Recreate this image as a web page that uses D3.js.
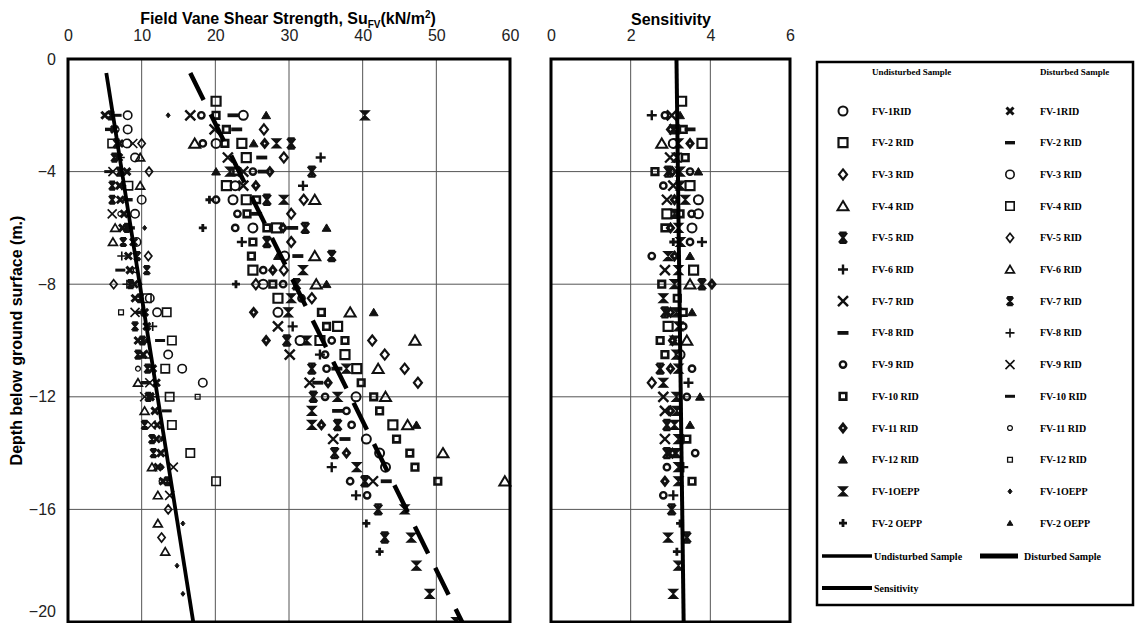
<!DOCTYPE html>
<html>
<head>
<meta charset="utf-8">
<script src="https://cdn.jsdelivr.net/npm/d3@7"></script>
<style>
  body { margin: 0; background: #fff; }
  svg { display: block; }
</style>
</head>
<body>
<svg id="chart" width="1139" height="623"></svg>
<script>
// ---- axis ticks and legend labels ----
const suTicks = [0, 10, 20, 30, 40, 50, 60];
const sensTicks = [0, 2, 4, 6];
const depthTicks = [0, -4, -8, -12, -16, -20];
const gridSu = [10, 20, 30, 40, 50];
const gridSens = [2, 4];
const gridDepth = [-4, -8, -12, -16];

const testLabels = ["FV-1RID", "FV-2 RID", "FV-3 RID", "FV-4 RID", "FV-5 RID", "FV-6 RID", "FV-7 RID",
  "FV-8 RID", "FV-9 RID", "FV-10 RID", "FV-11 RID", "FV-12 RID", "FV-1OEPP", "FV-2 OEPP"];

// ---- undisturbed field vane strength: [depth (m), Su (kN/m²)] ----
const und1 = [[-2,23.8],[-3,20.1],[-4.5,22.7],[-5,22.4],[-6,25.1],[-7,29.4],[-8,26.5],[-9,28.5],[-10,31.5],[-12,39.1],[-13.5,40.5],[-14,42.3],[-14.5,43.1]];
const und2 = [[-1.5,20.1],[-3,23.6],[-3.5,24.2],[-4.5,21.5],[-5,24.2],[-6,28.3],[-7.5,25.1],[-8.5,28.5],[-9.5,36.6],[-10,34.2],[-10.5,37.6],[-11,39.2],[-13,44.1]];
const und3 = [[-2.5,26.6],[-3.5,29.3],[-5,32.0],[-5.5,30.3],[-6.5,30.3],[-7.5,29.3],[-8,25.5],[-8.5,33.1],[-10,41.3],[-10.5,43.0],[-11,45.7],[-11.5,47.5]];
const und4 = [[-3,17.2],[-5,33.5],[-7,33.5],[-8,33.7],[-9,38.3],[-10,47.1],[-11,42.1],[-12,43.1],[-13,46.1],[-14,50.9],[-15,59.3]];
const und5 = [[-3,30.3],[-4,33.1],[-5,27.0],[-6,32.2],[-6.5,27.0],[-7,35.8],[-8,31.0],[-10,29.7],[-11,33.1],[-12,33.3],[-13,36.6],[-14,36.2],[-15,40.3],[-16,42.1],[-17,43.0]];
const und6 = [[-3.5,34.3],[-4.5,31.9],[-6.5,23.6],[-9.5,30.5],[-10.5,34.2],[-14.5,35.8],[-15.5,39.1]];
const und7 = [[-2,16.6],[-2.5,19.9],[-3.5,21.7],[-4,23.8],[-4.5,23.8],[-9.5,28.5],[-10.5,30.1],[-11.5,32.8],[-13.5,36.0],[-15,41.4]];
const und8 = [[-2,22.4],[-2.5,22.9],[-3.5,26.3],[-4,26.5],[-5.5,25.6],[-6,30.5],[-7,31.2],[-11,36.5],[-11.5,33.9],[-12.5,36.6],[-13.5,37.6],[-15,43.2]];
const und9 = [[-2,18.1],[-3,18.3],[-4,25.1],[-5,20.1],[-5.5,23.0],[-6,22.7],[-7.5,26.5],[-8,29.2],[-8.5,31.7],[-10,35.8],[-10.5,34.9],[-11,35.1],[-12,34.9],[-12.5,37.8],[-13,38.5],[-15,38.3],[-15.5,40.6]];
const und10 = [[-2,20.1],[-2.5,21.5],[-3,21.3],[-4,22.9],[-5,25.6],[-5.5,24.3],[-6,27.0],[-6.5,25.1],[-7,24.9],[-8,27.8],[-9,34.4],[-9.5,35.1],[-10,37.6],[-11.5,39.8],[-12,41.5],[-12.5,42.3],[-13.5,44.6],[-14,46.4],[-14.5,47.1],[-15,50.2]];
const und11 = [[-3,26.7],[-4,27.4],[-4.5,25.5],[-6,29.2],[-7.5,27.8],[-9,25.2],[-10,26.9],[-11.5,35.3],[-13,34.4],[-14,37.8]];
const und12 = [[-2,26.9],[-3,25.2],[-4,20.1],[-6,35.1],[-7,28.5],[-8,35.1],[-9,41.5],[-13,47.3]];
const und13 = [[-2,40.3],[-3,28.3],[-4,22.0],[-5,29.3],[-7.5,31.9],[-8.5,30.3],[-9,29.9],[-10,32.4],[-11,37.8],[-12,36.6],[-12.5,33.1],[-13,33.1],[-14.5,39.2],[-16,45.7],[-17,46.6],[-18,47.3],[-19,49.1],[-20,52.7]];
const und14 = [[-5,19.2],[-6,18.3],[-8,22.8],[-16.5,40.5],[-17.5,42.3]];

// ---- disturbed (remoulded) strength: [depth (m), Su (kN/m²)] ----
const dis1 = [[-2,5.0],[-2.5,6.3],[-3,7.0],[-3.5,6.9],[-4,8.0],[-4.5,7.0],[-5,7.1],[-5.5,7.6],[-6,7.4],[-6.5,8.9],[-7,8.2],[-7.5,8.4],[-8,9.0],[-8.5,9.1],[-9,10.4],[-9.5,10.7],[-10,9.5],[-10.5,10.2],[-11,11.5],[-11.5,12.0],[-12,11.2],[-12.5,11.8],[-13,12.1],[-13.5,12.0],[-14,12.6],[-14.5,12.2],[-15,12.9]];
const dis2 = [[-2.5,5.7],[-5,8.1],[-6,8.4],[-9,9.9],[-11.5,10.6]];
const dis3 = [[-2,8.1],[-2.5,8.1],[-3,8.0],[-3.5,9.1],[-5,10.0],[-5.5,9.1],[-6.5,9.3],[-8.5,11.1],[-9,12.1],[-10.5,13.6],[-11,15.5],[-11.5,18.3]];
const dis4 = [[-3,6.0],[-4.5,8.2],[-8.5,10.7],[-9,13.4],[-10,14.1],[-11,13.2],[-12,13.8],[-13,14.1],[-14,16.6],[-15,20.1]];
const dis5 = [[-3,10.0],[-4,11.0],[-7,10.9],[-8,6.2],[-16,13.6],[-17,12.7]];
const dis6 = [[-3.5,9.8],[-4.5,9.8],[-6,6.4],[-6.5,6.1],[-10.5,10.7],[-11.5,9.5],[-12.5,10.4],[-14.5,11.4],[-15.5,12.2],[-16.5,12.2],[-17.5,13.2]];
const dis7 = [[-2,5.8],[-3,6.6],[-3.5,6.3],[-4,7.0],[-4.5,6.0],[-5,6.0],[-6,8.0],[-6.5,7.5],[-7,9.4],[-7.5,10.7],[-8,8.5],[-8.5,9.8],[-9.5,9.1],[-10,10.1],[-10.5,9.5],[-11,10.8],[-12,10.9],[-13,10.4],[-13.5,11.4],[-14,11.6],[-15,13.5]];
const dis8 = [[-3.5,7.1],[-4.5,7.3],[-7,7.3],[-8,8.0],[-9.5,11.5],[-12,11.5]];
const dis9 = [[-3,8.8],[-4,6.1],[-5.5,6.0],[-9,9.1],[-11.5,11.1],[-12,10.4],[-13,11.3],[-14.5,14.3],[-15.5,13.8]];
const dis10 = [[-2,6.6],[-4,5.6],[-7.5,7.1],[-10,12.5],[-12.5,13.4]];
const dis11 = [[-2.5,6.6],[-5.5,7.1],[-7.5,9.2],[-11,9.5],[-15,12.7]];
const dis12 = [[-9,7.2],[-12,17.6]];
const dis13 = [[-2,13.6],[-6,10.4],[-8,9.8],[-10,10.7],[-13.5,12.7],[-14.5,12.8],[-16.5,15.6],[-18,14.8],[-19,15.6]];
const dis14 = [[-4,7.2],[-10,10.2]];

// ---- sensitivity: [depth (m), St] ----
const sens1 = [[-3,3.07],[-5,3.70],[-5.5,3.70],[-6,3.54],[-10.5,3.24]];
const sens2 = [[-1.5,3.28],[-3,3.79],[-4.5,3.49],[-5.5,2.91],[-7.5,3.58],[-9.5,2.94]];
const sens3 = [[-11.5,2.53]];
const sens4 = [[-3,2.78],[-8,3.49],[-10,3.41]];
const sens5 = [[-4,2.94],[-8,3.79],[-9,2.86],[-11,2.74],[-13,2.91],[-14,2.91],[-16,3.03],[-17,3.41]];
const sens6 = [[-2,2.53],[-6.5,3.79],[-11.5,3.45],[-14.5,3.32],[-15.5,3.07]];
const sens7 = [[-2,3.03],[-3.5,2.99],[-4.5,3.07],[-5,2.91],[-7.5,2.86],[-12,2.82],[-12.5,2.86],[-13.5,2.86]];
const sens8 = [[-2.5,3.49]];
const sens9 = [[-2,2.86],[-4,3.49],[-4.5,2.82],[-5.5,3.53],[-6.5,3.49],[-7,2.53],[-9.5,3.32],[-11,3.54],[-12,3.41],[-14,3.62],[-14.5,2.91],[-15.5,2.82]];
const sens10 = [[-2.5,3.32],[-3.5,3.37],[-4,2.61],[-5.5,3.24],[-6,2.86],[-8,2.78],[-8.5,3.17],[-9,3.32],[-10,2.74],[-10.5,2.86],[-13.5,3.41],[-15,3.54]];
const sens11 = [[-2.5,3.0],[-3,3.49],[-4,3.05],[-5,3.1],[-6,3.0],[-7,3.1],[-8,4.04],[-9,3.0],[-10,3.05],[-11,3.0],[-12.5,3.0],[-14,3.05],[-15,2.86]];
const sens12 = [[-2,3.24],[-4,3.70],[-7,3.49],[-9,3.54],[-12,3.74],[-13,3.49]];
const sens13 = [[-2.5,3.1],[-3,3.2],[-3.5,3.15],[-4,3.24],[-4.5,3.25],[-5,3.37],[-5.5,3.1],[-6,3.2],[-6.5,3.25],[-7,2.94],[-7.5,3.2],[-8,3.1],[-8.5,2.82],[-9,3.15],[-9.5,3.2],[-10,3.1],[-10.5,3.15],[-11,3.2],[-11.5,2.82],[-12,3.15],[-12.5,3.16],[-13,3.1],[-13.5,3.2],[-14,3.15],[-14.5,3.2],[-15,3.2],[-17,2.94],[-18,3.2],[-19,3.07]];
const sens14 = [[-6.5,3.07],[-16.5,3.24],[-17.5,3.16]];

// ---- fitted trend lines ----
const disturbedTrend = [[-0.5, 5.2], [-20, 17.0]];
const undisturbedTrend = [[-0.5, 16.6], [-20, 53.5]];
const sensitivityTrend = [[0, 3.15], [-20, 3.33]];

const undSeries = [und1, und2, und3, und4, und5, und6, und7, und8, und9, und10, und11, und12, und13, und14];
const disSeries = [dis1, dis2, dis3, dis4, dis5, dis6, dis7, dis8, dis9, dis10, dis11, dis12, dis13, dis14];
const sensSeries = [sens1, sens2, sens3, sens4, sens5, sens6, sens7, sens8, sens9, sens10, sens11, sens12, sens13, sens14];

// ---- marker shapes ----
const shapes = {
  circle: (c, r) => { c.moveTo(r, 0); c.arc(0, 0, r, 0, 2 * Math.PI); },
  square: (c, r) => { c.rect(-r, -r, 2 * r, 2 * r); },
  diamond: (c, r) => { c.moveTo(0, -r * 1.25); c.lineTo(r, 0); c.lineTo(0, r * 1.25); c.lineTo(-r, 0); c.closePath(); },
  triangle: (c, r) => { c.moveTo(0, -r); c.lineTo(r * 1.1, r * 0.85); c.lineTo(-r * 1.1, r * 0.85); c.closePath(); },
  plus: (c, r) => { c.moveTo(-r, 0); c.lineTo(r, 0); c.moveTo(0, -r); c.lineTo(0, r); },
  times: (c, r) => { c.moveTo(-r, -r); c.lineTo(r, r); c.moveTo(r, -r); c.lineTo(-r, r); },
  dash: (c, r) => { c.moveTo(-r, 0); c.lineTo(r, 0); },
  zhe: (c, r) => {
    c.moveTo(-r * 0.8, -r); c.lineTo(r * 0.8, r); c.moveTo(r * 0.8, -r); c.lineTo(-r * 0.8, r);
    c.moveTo(0, -r); c.lineTo(0, r);
    c.moveTo(-r * 0.7, -r); c.lineTo(r * 0.7, -r); c.moveTo(-r * 0.7, r); c.lineTo(r * 0.7, r);
  },
  hourglass: (c, r) => { c.moveTo(-r, -r); c.lineTo(r, -r); c.lineTo(-r, r); c.lineTo(r, r); c.closePath(); }
};

const undStyles = [
  { shape: "circle", r: 4.5, sw: 2 },
  { shape: "square", r: 4.5, sw: 2.2 },
  { shape: "diamond", r: 4, sw: 2.2 },
  { shape: "triangle", r: 5, sw: 2 },
  { shape: "zhe", r: 5, sw: 2.4 },
  { shape: "plus", r: 5, sw: 2.4 },
  { shape: "times", r: 5, sw: 2.4 },
  { shape: "dash", r: 5.5, sw: 3.8 },
  { shape: "circle", r: 3.2, sw: 2.4 },
  { shape: "square", r: 3.3, sw: 2.6 },
  { shape: "diamond", r: 3, sw: 3 },
  { shape: "triangle", r: 4, sw: 1, fill: true },
  { shape: "hourglass", r: 4.5, sw: 1.2, fill: true },
  { shape: "plus", r: 4, sw: 2.8 }
];
const disStyles = [
  { shape: "times", r: 3.5, sw: 3 },
  { shape: "dash", r: 5, sw: 3.4 },
  { shape: "circle", r: 4.2, sw: 1.6 },
  { shape: "square", r: 4.2, sw: 1.6 },
  { shape: "diamond", r: 3.6, sw: 1.7 },
  { shape: "triangle", r: 4, sw: 1.7 },
  { shape: "zhe", r: 4, sw: 2.2 },
  { shape: "plus", r: 4.5, sw: 1.6 },
  { shape: "times", r: 4.5, sw: 1.6 },
  { shape: "dash", r: 5, sw: 3 },
  { shape: "circle", r: 2.4, sw: 1.3 },
  { shape: "square", r: 2.4, sw: 1.3 },
  { shape: "diamond", r: 2, sw: 1, fill: true },
  { shape: "triangle", r: 2.6, sw: 1, fill: true }
];

function markerPath(style) {
  return d3.symbol()
    .type({ draw: (ctx, size) => shapes[style.shape](ctx, Math.sqrt(size)) })
    .size(style.r * style.r)();
}
function styleMarker(sel, style) {
  sel.attr("d", markerPath(style))
    .attr("fill", style.fill ? "#111" : "none")
    .attr("stroke", "#111")
    .attr("stroke-width", style.sw)
    .attr("stroke-linejoin", "miter");
}

// ---- layout ----
const svg = d3.select("#chart");
const plotTop = 59, plotBottom = 622;
const xSu = d3.scaleLinear().domain([0, 60]).range([68, 510]);
const xSens = d3.scaleLinear().domain([0, 6]).range([551, 790]);
const yDepth = d3.scaleLinear().domain([0, -20]).range([plotTop, plotBottom]);

const sans = "'Liberation Sans', Arial, sans-serif";
const serif = "'Liberation Serif', 'Times New Roman', serif";

function panel(x, gridX, ticks, series, styles, lines) {
  const g = svg.append("g");
  // grid
  g.append("g").selectAll("line").data(gridX).join("line")
    .attr("x1", d => x(d)).attr("x2", d => x(d))
    .attr("y1", plotTop).attr("y2", plotBottom)
    .attr("stroke", "#555").attr("stroke-width", 1);
  g.append("g").selectAll("line").data(gridDepth).join("line")
    .attr("x1", x.range()[0]).attr("x2", x.range()[1])
    .attr("y1", d => yDepth(d)).attr("y2", d => yDepth(d))
    .attr("stroke", "#555").attr("stroke-width", 1);
  // markers
  series.forEach((pts, i) => {
    g.append("g").selectAll("path").data(pts).join("path")
      .attr("transform", d => `translate(${x(d[1])},${yDepth(d[0])})`)
      .call(styleMarker, styles[i]);
  });
  // trend lines
  const line = d3.line().x(d => x(d[1])).y(d => yDepth(d[0]));
  lines.forEach(l => {
    g.append("path").datum(l.data).attr("d", line)
      .attr("fill", "none").attr("stroke", "#000")
      .attr("stroke-width", l.width).attr("stroke-dasharray", l.dash || null);
  });
  // frame
  g.append("rect")
    .attr("x", x.range()[0]).attr("y", plotTop)
    .attr("width", x.range()[1] - x.range()[0]).attr("height", plotBottom - plotTop)
    .attr("fill", "none").attr("stroke", "#000").attr("stroke-width", 3);
  // top axis labels
  const ax = g.append("g").attr("transform", `translate(0,${plotTop})`)
    .call(d3.axisTop(x).tickValues(ticks).tickSize(0).tickPadding(18).tickFormat(d3.format("d")));
  ax.select(".domain").remove();
  ax.selectAll("text").attr("font-family", sans).attr("font-size", 16).attr("fill", "#222");
  return g;
}

panel(xSu, gridSu, suTicks, [...undSeries, ...disSeries], [...undStyles, ...disStyles], [
  { data: disturbedTrend, width: 3.8 },
  { data: undisturbedTrend, width: 4.5, dash: "30,16" }
]);
panel(xSens, gridSens, sensTicks, sensSeries, undStyles, [
  { data: sensitivityTrend, width: 4 }
]);

// depth axis (the lowest label sits at the bottom edge, nudged up to stay legible)
const ay = svg.append("g").attr("transform", `translate(${xSu.range()[0]},0)`)
  .call(d3.axisLeft(yDepth).tickValues(depthTicks).tickSize(0).tickPadding(12).tickFormat(d3.format("d")));
ay.select(".domain").remove();
ay.selectAll("text").attr("font-family", sans).attr("font-size", 16).attr("fill", "#222");
ay.selectAll(".tick").filter(d => d === -20).select("text").attr("dy", "-0.32em");

// titles
const t1 = svg.append("text").attr("x", 288).attr("y", 24).attr("text-anchor", "middle")
  .attr("font-family", sans).attr("font-size", 16).attr("font-weight", "bold");
t1.append("tspan").text("Field Vane Shear Strength, Su");
t1.append("tspan").attr("font-size", 10).attr("dy", 4).text("FV");
t1.append("tspan").attr("dy", -4).text("(kN/m");
t1.append("tspan").attr("font-size", 10).attr("dy", -6).text("2");
t1.append("tspan").attr("dy", 6).text(")");

svg.append("text").attr("x", 671).attr("y", 25).attr("text-anchor", "middle")
  .attr("font-family", sans).attr("font-size", 16).attr("font-weight", "bold").text("Sensitivity");

svg.append("text").attr("transform", `translate(22,${(plotTop + plotBottom) / 2}) rotate(-90)`)
  .attr("text-anchor", "middle").attr("font-family", sans).attr("font-size", 16)
  .attr("font-weight", "bold").text("Depth below ground surface (m.)");

// ---- legend ----
const lg = svg.append("g");
lg.append("rect").attr("x", 817).attr("y", 62).attr("width", 316).attr("height", 543)
  .attr("fill", "#fff").attr("stroke", "#000").attr("stroke-width", 2.5);
lg.append("text").attr("x", 872).attr("y", 75).attr("font-family", serif).attr("font-size", 9)
  .attr("font-weight", "bold").text("Undisturbed Sample");
lg.append("text").attr("x", 1040).attr("y", 75).attr("font-family", serif).attr("font-size", 9)
  .attr("font-weight", "bold").text("Disturbed Sample");

const rowY = d3.scaleLinear().domain([0, 1]).range([111, 142.7]);
testLabels.forEach((lab, i) => {
  const y = rowY(i);
  lg.append("path").attr("transform", `translate(843,${y})`).call(styleMarker, undStyles[i]);
  lg.append("path").attr("transform", `translate(1010,${y})`).call(styleMarker, disStyles[i]);
  lg.append("text").attr("x", 872).attr("y", y + 3.5).attr("font-family", serif)
    .attr("font-size", 10).attr("font-weight", "bold").text(lab);
  lg.append("text").attr("x", 1040).attr("y", y + 3.5).attr("font-family", serif)
    .attr("font-size", 10).attr("font-weight", "bold").text(lab);
});

const lineRows = [
  { x1: 822, x2: 872, y: 556, w: 3.5, label: "Undisturbed Sample", tx: 874 },
  { x1: 980, x2: 1018, y: 556, w: 5, label: "Disturbed Sample", tx: 1024 },
  { x1: 822, x2: 872, y: 588, w: 4, label: "Sensitivity", tx: 874 }
];
lineRows.forEach(r => {
  lg.append("line").attr("x1", r.x1).attr("x2", r.x2).attr("y1", r.y).attr("y2", r.y)
    .attr("stroke", "#000").attr("stroke-width", r.w);
  lg.append("text").attr("x", r.tx).attr("y", r.y + 4).attr("font-family", serif)
    .attr("font-size", 10).attr("font-weight", "bold").text(r.label);
});
</script>
</body>
</html>
